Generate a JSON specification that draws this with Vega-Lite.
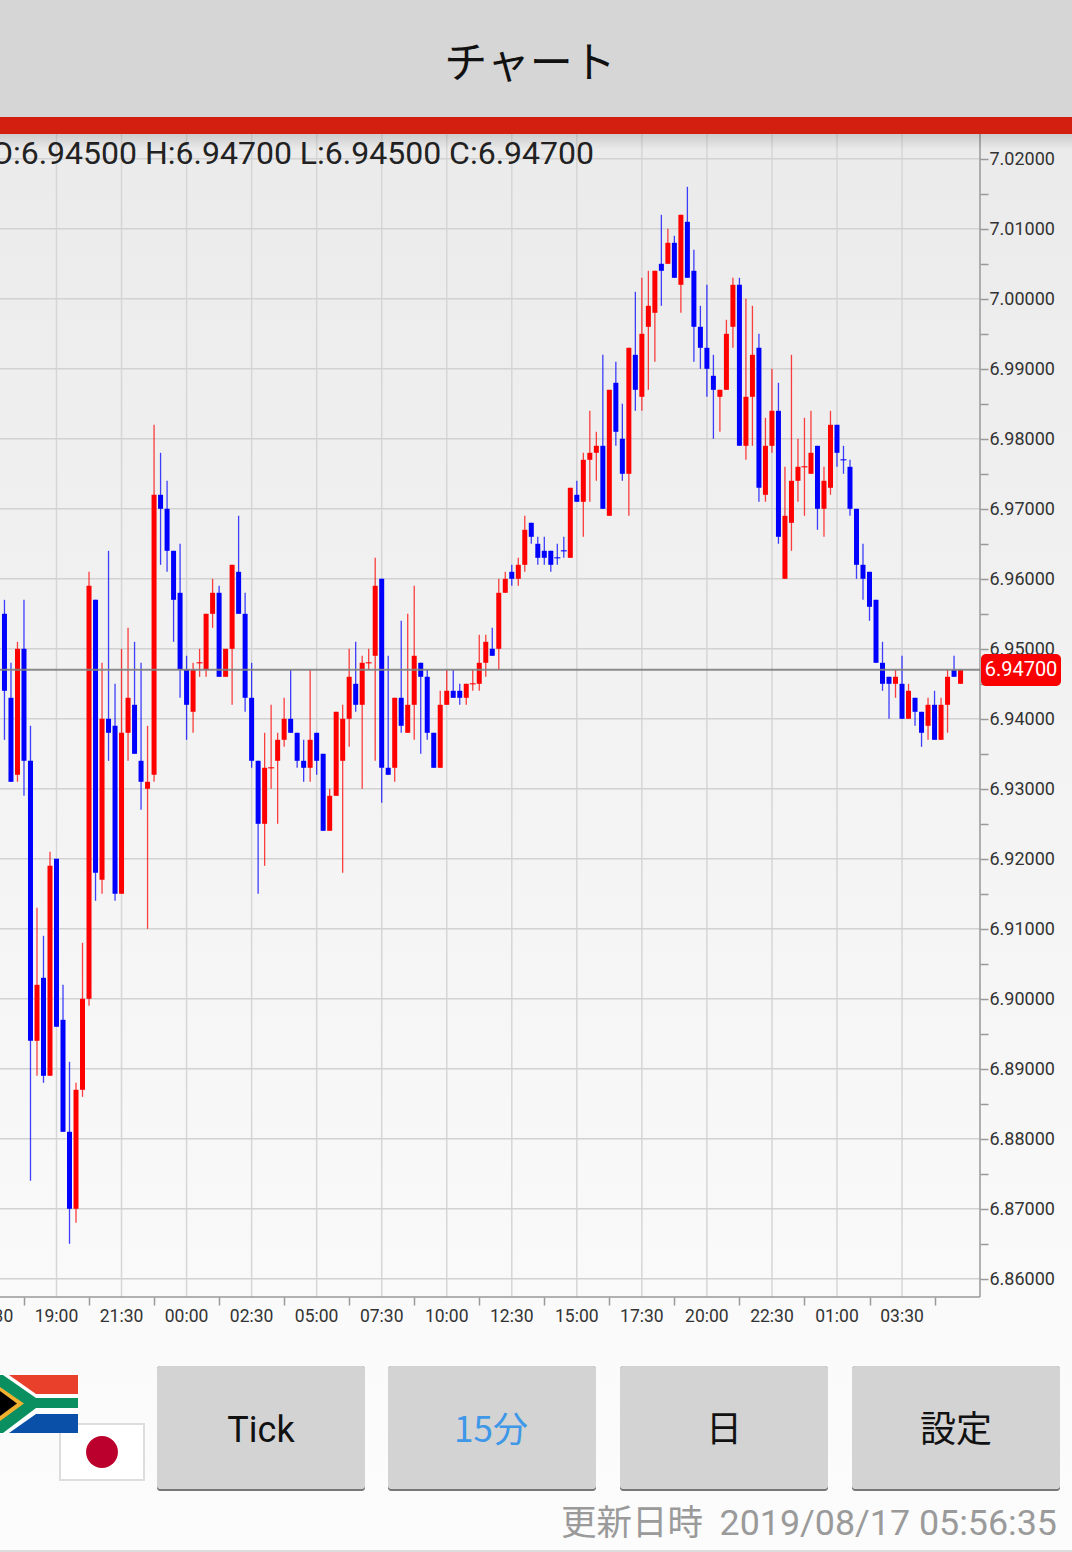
{"$schema":"https://vega.github.io/schema/vega-lite/v6.json","width":1072,"height":1552,"autosize":"none","padding":0,"background":"#fafafa","view":{"stroke":null,"fill":{"gradient":"linear","x1":0,"y1":0,"x2":0,"y2":1,"stops":[{"offset":0,"color":"#e9e9e9"},{"offset":0.1,"color":"#ebebeb"},{"offset":0.85,"color":"#fafafa"},{"offset":1,"color":"#fcfcfc"}]}},"config":{"axis":{"title":null,"grid":false,"domain":false}},"datasets":{"candles":[
{"t":"2019-08-15T17:00Z","o":6.955,"h":6.957,"l":6.937,"c":6.944,"d":"d"},
{"t":"2019-08-15T17:15Z","o":6.943,"h":6.948,"l":6.931,"c":6.931,"d":"d"},
{"t":"2019-08-15T17:30Z","o":6.932,"h":6.951,"l":6.931,"c":6.950,"d":"u"},
{"t":"2019-08-15T17:45Z","o":6.950,"h":6.957,"l":6.929,"c":6.934,"d":"d"},
{"t":"2019-08-15T18:00Z","o":6.934,"h":6.939,"l":6.874,"c":6.894,"d":"d"},
{"t":"2019-08-15T18:15Z","o":6.894,"h":6.913,"l":6.889,"c":6.902,"d":"u"},
{"t":"2019-08-15T18:30Z","o":6.903,"h":6.909,"l":6.888,"c":6.889,"d":"d"},
{"t":"2019-08-15T18:45Z","o":6.889,"h":6.921,"l":6.889,"c":6.919,"d":"u"},
{"t":"2019-08-15T19:00Z","o":6.920,"h":6.920,"l":6.896,"c":6.896,"d":"d"},
{"t":"2019-08-15T19:15Z","o":6.897,"h":6.902,"l":6.881,"c":6.881,"d":"d"},
{"t":"2019-08-15T19:30Z","o":6.881,"h":6.891,"l":6.865,"c":6.870,"d":"d"},
{"t":"2019-08-15T19:45Z","o":6.870,"h":6.888,"l":6.868,"c":6.887,"d":"u"},
{"t":"2019-08-15T20:00Z","o":6.887,"h":6.908,"l":6.886,"c":6.900,"d":"u"},
{"t":"2019-08-15T20:15Z","o":6.900,"h":6.961,"l":6.899,"c":6.959,"d":"u"},
{"t":"2019-08-15T20:30Z","o":6.957,"h":6.957,"l":6.914,"c":6.918,"d":"d"},
{"t":"2019-08-15T20:45Z","o":6.917,"h":6.948,"l":6.915,"c":6.940,"d":"u"},
{"t":"2019-08-15T21:00Z","o":6.940,"h":6.964,"l":6.934,"c":6.938,"d":"d"},
{"t":"2019-08-15T21:15Z","o":6.939,"h":6.945,"l":6.914,"c":6.915,"d":"d"},
{"t":"2019-08-15T21:30Z","o":6.915,"h":6.950,"l":6.915,"c":6.938,"d":"u"},
{"t":"2019-08-15T21:45Z","o":6.938,"h":6.953,"l":6.934,"c":6.943,"d":"u"},
{"t":"2019-08-15T22:00Z","o":6.942,"h":6.951,"l":6.935,"c":6.935,"d":"d"},
{"t":"2019-08-15T22:15Z","o":6.934,"h":6.948,"l":6.927,"c":6.931,"d":"d"},
{"t":"2019-08-15T22:30Z","o":6.930,"h":6.939,"l":6.910,"c":6.931,"d":"u"},
{"t":"2019-08-15T22:45Z","o":6.932,"h":6.982,"l":6.931,"c":6.972,"d":"u"},
{"t":"2019-08-15T23:00Z","o":6.972,"h":6.978,"l":6.962,"c":6.970,"d":"d"},
{"t":"2019-08-15T23:15Z","o":6.970,"h":6.974,"l":6.961,"c":6.964,"d":"d"},
{"t":"2019-08-15T23:30Z","o":6.964,"h":6.964,"l":6.951,"c":6.957,"d":"d"},
{"t":"2019-08-15T23:45Z","o":6.958,"h":6.965,"l":6.943,"c":6.947,"d":"d"},
{"t":"2019-08-16T00:00Z","o":6.947,"h":6.949,"l":6.937,"c":6.942,"d":"d"},
{"t":"2019-08-16T00:15Z","o":6.941,"h":6.948,"l":6.938,"c":6.947,"d":"u"},
{"t":"2019-08-16T00:30Z","o":6.948,"h":6.950,"l":6.946,"c":6.948,"d":"u"},
{"t":"2019-08-16T00:45Z","o":6.947,"h":6.955,"l":6.946,"c":6.955,"d":"u"},
{"t":"2019-08-16T01:00Z","o":6.955,"h":6.960,"l":6.953,"c":6.958,"d":"u"},
{"t":"2019-08-16T01:15Z","o":6.958,"h":6.959,"l":6.946,"c":6.946,"d":"d"},
{"t":"2019-08-16T01:30Z","o":6.946,"h":6.950,"l":6.946,"c":6.950,"d":"u"},
{"t":"2019-08-16T01:45Z","o":6.950,"h":6.962,"l":6.942,"c":6.962,"d":"u"},
{"t":"2019-08-16T02:00Z","o":6.961,"h":6.969,"l":6.955,"c":6.955,"d":"d"},
{"t":"2019-08-16T02:15Z","o":6.955,"h":6.958,"l":6.941,"c":6.943,"d":"d"},
{"t":"2019-08-16T02:30Z","o":6.943,"h":6.948,"l":6.933,"c":6.934,"d":"d"},
{"t":"2019-08-16T02:45Z","o":6.934,"h":6.934,"l":6.915,"c":6.925,"d":"d"},
{"t":"2019-08-16T03:00Z","o":6.925,"h":6.938,"l":6.919,"c":6.933,"d":"u"},
{"t":"2019-08-16T03:15Z","o":6.933,"h":6.942,"l":6.930,"c":6.933,"d":"u"},
{"t":"2019-08-16T03:30Z","o":6.934,"h":6.938,"l":6.925,"c":6.937,"d":"u"},
{"t":"2019-08-16T03:45Z","o":6.937,"h":6.943,"l":6.936,"c":6.940,"d":"u"},
{"t":"2019-08-16T04:00Z","o":6.940,"h":6.947,"l":6.938,"c":6.938,"d":"d"},
{"t":"2019-08-16T04:15Z","o":6.938,"h":6.938,"l":6.933,"c":6.934,"d":"d"},
{"t":"2019-08-16T04:30Z","o":6.934,"h":6.937,"l":6.931,"c":6.933,"d":"d"},
{"t":"2019-08-16T04:45Z","o":6.933,"h":6.947,"l":6.931,"c":6.937,"d":"u"},
{"t":"2019-08-16T05:00Z","o":6.938,"h":6.938,"l":6.932,"c":6.934,"d":"d"},
{"t":"2019-08-16T05:15Z","o":6.935,"h":6.935,"l":6.924,"c":6.924,"d":"d"},
{"t":"2019-08-16T05:30Z","o":6.924,"h":6.930,"l":6.924,"c":6.929,"d":"u"},
{"t":"2019-08-16T05:45Z","o":6.929,"h":6.941,"l":6.929,"c":6.941,"d":"u"},
{"t":"2019-08-16T06:00Z","o":6.934,"h":6.942,"l":6.918,"c":6.940,"d":"u"},
{"t":"2019-08-16T06:15Z","o":6.940,"h":6.950,"l":6.936,"c":6.946,"d":"u"},
{"t":"2019-08-16T06:30Z","o":6.945,"h":6.951,"l":6.941,"c":6.942,"d":"d"},
{"t":"2019-08-16T06:45Z","o":6.942,"h":6.949,"l":6.930,"c":6.948,"d":"u"},
{"t":"2019-08-16T07:00Z","o":6.948,"h":6.950,"l":6.947,"c":6.948,"d":"u"},
{"t":"2019-08-16T07:15Z","o":6.949,"h":6.963,"l":6.934,"c":6.959,"d":"u"},
{"t":"2019-08-16T07:30Z","o":6.960,"h":6.960,"l":6.928,"c":6.933,"d":"d"},
{"t":"2019-08-16T07:45Z","o":6.933,"h":6.949,"l":6.932,"c":6.932,"d":"d"},
{"t":"2019-08-16T08:00Z","o":6.933,"h":6.943,"l":6.931,"c":6.943,"d":"u"},
{"t":"2019-08-16T08:15Z","o":6.943,"h":6.954,"l":6.938,"c":6.939,"d":"d"},
{"t":"2019-08-16T08:30Z","o":6.938,"h":6.955,"l":6.938,"c":6.942,"d":"u"},
{"t":"2019-08-16T08:45Z","o":6.942,"h":6.959,"l":6.937,"c":6.949,"d":"u"},
{"t":"2019-08-16T09:00Z","o":6.948,"h":6.948,"l":6.935,"c":6.946,"d":"d"},
{"t":"2019-08-16T09:15Z","o":6.946,"h":6.947,"l":6.937,"c":6.938,"d":"d"},
{"t":"2019-08-16T09:30Z","o":6.938,"h":6.938,"l":6.933,"c":6.933,"d":"d"},
{"t":"2019-08-16T09:45Z","o":6.933,"h":6.944,"l":6.933,"c":6.942,"d":"u"},
{"t":"2019-08-16T10:00Z","o":6.942,"h":6.947,"l":6.942,"c":6.944,"d":"u"},
{"t":"2019-08-16T10:15Z","o":6.944,"h":6.947,"l":6.943,"c":6.943,"d":"d"},
{"t":"2019-08-16T10:30Z","o":6.944,"h":6.945,"l":6.942,"c":6.943,"d":"d"},
{"t":"2019-08-16T10:45Z","o":6.943,"h":6.945,"l":6.942,"c":6.945,"d":"u"},
{"t":"2019-08-16T11:00Z","o":6.945,"h":6.947,"l":6.944,"c":6.945,"d":"u"},
{"t":"2019-08-16T11:15Z","o":6.945,"h":6.952,"l":6.944,"c":6.948,"d":"u"},
{"t":"2019-08-16T11:30Z","o":6.948,"h":6.952,"l":6.946,"c":6.951,"d":"u"},
{"t":"2019-08-16T11:45Z","o":6.950,"h":6.953,"l":6.949,"c":6.949,"d":"d"},
{"t":"2019-08-16T12:00Z","o":6.950,"h":6.960,"l":6.947,"c":6.958,"d":"u"},
{"t":"2019-08-16T12:15Z","o":6.958,"h":6.961,"l":6.958,"c":6.960,"d":"u"},
{"t":"2019-08-16T12:30Z","o":6.961,"h":6.962,"l":6.959,"c":6.960,"d":"d"},
{"t":"2019-08-16T12:45Z","o":6.960,"h":6.963,"l":6.959,"c":6.962,"d":"u"},
{"t":"2019-08-16T13:00Z","o":6.962,"h":6.969,"l":6.961,"c":6.967,"d":"u"},
{"t":"2019-08-16T13:15Z","o":6.968,"h":6.968,"l":6.965,"c":6.966,"d":"d"},
{"t":"2019-08-16T13:30Z","o":6.965,"h":6.966,"l":6.962,"c":6.963,"d":"d"},
{"t":"2019-08-16T13:45Z","o":6.964,"h":6.966,"l":6.962,"c":6.963,"d":"d"},
{"t":"2019-08-16T14:00Z","o":6.964,"h":6.964,"l":6.961,"c":6.962,"d":"d"},
{"t":"2019-08-16T14:15Z","o":6.963,"h":6.965,"l":6.962,"c":6.963,"d":"d"},
{"t":"2019-08-16T14:30Z","o":6.964,"h":6.966,"l":6.963,"c":6.964,"d":"d"},
{"t":"2019-08-16T14:45Z","o":6.963,"h":6.973,"l":6.963,"c":6.973,"d":"u"},
{"t":"2019-08-16T15:00Z","o":6.972,"h":6.974,"l":6.971,"c":6.971,"d":"d"},
{"t":"2019-08-16T15:15Z","o":6.971,"h":6.978,"l":6.966,"c":6.977,"d":"u"},
{"t":"2019-08-16T15:30Z","o":6.977,"h":6.984,"l":6.971,"c":6.978,"d":"u"},
{"t":"2019-08-16T15:45Z","o":6.978,"h":6.981,"l":6.974,"c":6.979,"d":"u"},
{"t":"2019-08-16T16:00Z","o":6.979,"h":6.992,"l":6.970,"c":6.970,"d":"d"},
{"t":"2019-08-16T16:15Z","o":6.969,"h":6.987,"l":6.969,"c":6.987,"d":"u"},
{"t":"2019-08-16T16:30Z","o":6.988,"h":6.991,"l":6.979,"c":6.981,"d":"d"},
{"t":"2019-08-16T16:45Z","o":6.980,"h":6.985,"l":6.974,"c":6.975,"d":"d"},
{"t":"2019-08-16T17:00Z","o":6.975,"h":6.993,"l":6.969,"c":6.993,"d":"u"},
{"t":"2019-08-16T17:15Z","o":6.992,"h":7.001,"l":6.984,"c":6.987,"d":"d"},
{"t":"2019-08-16T17:30Z","o":6.986,"h":7.003,"l":6.984,"c":6.995,"d":"u"},
{"t":"2019-08-16T17:45Z","o":6.996,"h":7.004,"l":6.987,"c":6.999,"d":"u"},
{"t":"2019-08-16T18:00Z","o":6.998,"h":7.004,"l":6.991,"c":7.004,"d":"u"},
{"t":"2019-08-16T18:15Z","o":7.005,"h":7.012,"l":6.999,"c":7.004,"d":"d"},
{"t":"2019-08-16T18:30Z","o":7.005,"h":7.010,"l":7.005,"c":7.008,"d":"u"},
{"t":"2019-08-16T18:45Z","o":7.008,"h":7.009,"l":7.003,"c":7.003,"d":"d"},
{"t":"2019-08-16T19:00Z","o":7.002,"h":7.012,"l":6.998,"c":7.012,"d":"u"},
{"t":"2019-08-16T19:15Z","o":7.011,"h":7.016,"l":7.003,"c":7.003,"d":"d"},
{"t":"2019-08-16T19:30Z","o":7.004,"h":7.007,"l":6.991,"c":6.996,"d":"d"},
{"t":"2019-08-16T19:45Z","o":6.996,"h":6.999,"l":6.990,"c":6.993,"d":"d"},
{"t":"2019-08-16T20:00Z","o":6.993,"h":7.002,"l":6.986,"c":6.990,"d":"d"},
{"t":"2019-08-16T20:15Z","o":6.989,"h":6.992,"l":6.980,"c":6.987,"d":"d"},
{"t":"2019-08-16T20:30Z","o":6.986,"h":6.987,"l":6.981,"c":6.987,"d":"u"},
{"t":"2019-08-16T20:45Z","o":6.987,"h":6.997,"l":6.987,"c":6.995,"d":"u"},
{"t":"2019-08-16T21:00Z","o":6.996,"h":7.003,"l":6.993,"c":7.002,"d":"u"},
{"t":"2019-08-16T21:15Z","o":7.002,"h":7.003,"l":6.979,"c":6.979,"d":"d"},
{"t":"2019-08-16T21:30Z","o":6.979,"h":7.000,"l":6.977,"c":6.986,"d":"u"},
{"t":"2019-08-16T21:45Z","o":6.986,"h":6.999,"l":6.979,"c":6.992,"d":"u"},
{"t":"2019-08-16T22:00Z","o":6.993,"h":6.995,"l":6.971,"c":6.973,"d":"d"},
{"t":"2019-08-16T22:15Z","o":6.972,"h":6.983,"l":6.971,"c":6.979,"d":"u"},
{"t":"2019-08-16T22:30Z","o":6.979,"h":6.990,"l":6.978,"c":6.984,"d":"u"},
{"t":"2019-08-16T22:45Z","o":6.984,"h":6.988,"l":6.965,"c":6.966,"d":"d"},
{"t":"2019-08-16T23:00Z","o":6.960,"h":6.976,"l":6.960,"c":6.969,"d":"u"},
{"t":"2019-08-16T23:15Z","o":6.968,"h":6.992,"l":6.964,"c":6.974,"d":"u"},
{"t":"2019-08-16T23:30Z","o":6.974,"h":6.980,"l":6.971,"c":6.976,"d":"u"},
{"t":"2019-08-16T23:45Z","o":6.976,"h":6.983,"l":6.969,"c":6.976,"d":"u"},
{"t":"2019-08-17T00:00Z","o":6.975,"h":6.984,"l":6.975,"c":6.978,"d":"u"},
{"t":"2019-08-17T00:15Z","o":6.979,"h":6.979,"l":6.967,"c":6.970,"d":"d"},
{"t":"2019-08-17T00:30Z","o":6.970,"h":6.976,"l":6.966,"c":6.974,"d":"u"},
{"t":"2019-08-17T00:45Z","o":6.973,"h":6.984,"l":6.972,"c":6.982,"d":"u"},
{"t":"2019-08-17T01:00Z","o":6.982,"h":6.982,"l":6.976,"c":6.978,"d":"d"},
{"t":"2019-08-17T01:15Z","o":6.977,"h":6.979,"l":6.975,"c":6.977,"d":"d"},
{"t":"2019-08-17T01:30Z","o":6.976,"h":6.977,"l":6.969,"c":6.970,"d":"d"},
{"t":"2019-08-17T01:45Z","o":6.970,"h":6.970,"l":6.960,"c":6.962,"d":"d"},
{"t":"2019-08-17T02:00Z","o":6.962,"h":6.965,"l":6.957,"c":6.960,"d":"d"},
{"t":"2019-08-17T02:15Z","o":6.961,"h":6.961,"l":6.954,"c":6.956,"d":"d"},
{"t":"2019-08-17T02:30Z","o":6.957,"h":6.957,"l":6.948,"c":6.948,"d":"d"},
{"t":"2019-08-17T02:45Z","o":6.948,"h":6.951,"l":6.944,"c":6.945,"d":"d"},
{"t":"2019-08-17T03:00Z","o":6.946,"h":6.946,"l":6.940,"c":6.945,"d":"d"},
{"t":"2019-08-17T03:15Z","o":6.945,"h":6.947,"l":6.943,"c":6.946,"d":"u"},
{"t":"2019-08-17T03:30Z","o":6.945,"h":6.949,"l":6.940,"c":6.940,"d":"d"},
{"t":"2019-08-17T03:45Z","o":6.940,"h":6.945,"l":6.940,"c":6.944,"d":"u"},
{"t":"2019-08-17T04:00Z","o":6.943,"h":6.943,"l":6.939,"c":6.941,"d":"d"},
{"t":"2019-08-17T04:15Z","o":6.941,"h":6.941,"l":6.936,"c":6.938,"d":"d"},
{"t":"2019-08-17T04:30Z","o":6.939,"h":6.943,"l":6.937,"c":6.942,"d":"u"},
{"t":"2019-08-17T04:45Z","o":6.942,"h":6.944,"l":6.937,"c":6.937,"d":"d"},
{"t":"2019-08-17T05:00Z","o":6.937,"h":6.943,"l":6.937,"c":6.942,"d":"u"},
{"t":"2019-08-17T05:15Z","o":6.942,"h":6.947,"l":6.938,"c":6.946,"d":"u"},
{"t":"2019-08-17T05:30Z","o":6.947,"h":6.949,"l":6.946,"c":6.946,"d":"d"},
{"t":"2019-08-17T05:45Z","o":6.945,"h":6.947,"l":6.945,"c":6.947,"d":"u"}
],
"vgrid":[{"v":1565895600000},{"v":1565904600000},{"v":1565913600000},{"v":1565922600000},{"v":1565931600000},{"v":1565940600000},{"v":1565949600000},{"v":1565958600000},{"v":1565967600000},{"v":1565976600000},{"v":1565985600000},{"v":1565994600000},{"v":1566003600000},{"v":1566012600000}],
"xlabels":[{"v":1565886600000,"lab":"16:30"},{"v":1565895600000,"lab":"19:00"},{"v":1565904600000,"lab":"21:30"},{"v":1565913600000,"lab":"00:00"},{"v":1565922600000,"lab":"02:30"},{"v":1565931600000,"lab":"05:00"},{"v":1565940600000,"lab":"07:30"},{"v":1565949600000,"lab":"10:00"},{"v":1565958600000,"lab":"12:30"},{"v":1565967600000,"lab":"15:00"},{"v":1565976600000,"lab":"17:30"},{"v":1565985600000,"lab":"20:00"},{"v":1565994600000,"lab":"22:30"},{"v":1566003600000,"lab":"01:00"},{"v":1566012600000,"lab":"03:30"}],
"hgrid":[{"p":6.86},{"p":6.87},{"p":6.88},{"p":6.89},{"p":6.90},{"p":6.91},{"p":6.92},{"p":6.93},{"p":6.94},{"p":6.95},{"p":6.96},{"p":6.97},{"p":6.98},{"p":6.99},{"p":7.00},{"p":7.01},{"p":7.02}],
"one":[{"a":1}]},
"layer":[
{"data":{"name":"candles"},"mark":{"type":"point","opacity":0},"encoding":{
"x":{"field":"t","type":"temporal","scale":{"type":"utc","domain":[1565887781756,1566036120828],"nice":false},"axis":{"title":null,"grid":false,"domain":false,"orient":"bottom","offset":-255,"labels":false,"values":[1565886600000,1565891100000,1565895600000,1565900100000,1565904600000,1565909100000,1565913600000,1565918100000,1565922600000,1565927100000,1565931600000,1565936100000,1565940600000,1565945100000,1565949600000,1565954100000,1565958600000,1565963100000,1565967600000,1565972100000,1565976600000,1565981100000,1565985600000,1565990100000,1565994600000,1565999100000,1566003600000,1566008100000,1566012600000,1566017100000],"tickColor":"#999999","tickSize":8,"tickWidth":1.5}},
"y":{"field":"l","type":"quantitative","scale":{"domain":[6.820971,7.042686],"nice":false,"zero":false},"axis":{"title":null,"grid":false,"domain":false,"orient":"right","offset":-92,"values":[6.86,6.865,6.87,6.875,6.88,6.885,6.89,6.895,6.9,6.905,6.91,6.915,6.92,6.925,6.93,6.935,6.94,6.945,6.95,6.955,6.96,6.965,6.97,6.975,6.98,6.985,6.99,6.995,7.0,7.005,7.01,7.015,7.02],"labelExpr":"round(datum.value*1000)%10==0?format(datum.value,'.5f'):''","labelOverlap":false,"labelFont":"Roboto","labelFontSize":18,"labelColor":"#333333","tickColor":"#999999","tickSize":8,"tickWidth":1.5,"labelPadding":1,"labelOffset":1}}}},
{"data":{"name":"xlabels"},"mark":{"type":"text","color":"#333333","font":"Roboto","fontSize":17.5,"align":"center","baseline":"middle"},"encoding":{"x":{"field":"v","type":"temporal"},"y":{"datum":6.854543,"type":"quantitative"},"text":{"field":"lab","type":"nominal"}}},
{"data":{"name":"vgrid"},"mark":{"type":"rule","color":"#d6d6d6","strokeWidth":1.5},"encoding":{"x":{"field":"v","type":"temporal"},"y":{"datum":7.02364,"type":"quantitative"},"y2":{"datum":6.8574}}},
{"data":{"name":"hgrid"},"mark":{"type":"rule","color":"#d2d2d2","strokeWidth":1.5},"encoding":{"y":{"field":"p","type":"quantitative"},"x":{"datum":1565887781756,"type":"temporal"},"x2":{"datum":1566023390236}}},
{"data":{"name":"one"},"mark":{"type":"rule","color":"#999999","strokeWidth":1.5},"encoding":{"y":{"datum":6.8574,"type":"quantitative"},"x":{"datum":1565887781756,"type":"temporal"},"x2":{"datum":1566023390236}}},
{"data":{"name":"one"},"mark":{"type":"rule","color":"#999999","strokeWidth":1.5},"encoding":{"x":{"datum":1566023390236,"type":"temporal"},"y":{"datum":7.02364,"type":"quantitative"},"y2":{"datum":6.8574}}},
{"data":{"name":"candles"},"mark":{"type":"rule","strokeWidth":1.3,"opacity":0.75},"encoding":{"x":{"field":"t","type":"temporal"},"y":{"field":"l","type":"quantitative"},"y2":{"field":"h"},"color":{"field":"d","type":"nominal","scale":{"domain":["u","d"],"range":["#ff0000","#0000ff"]},"legend":null}}},
{"data":{"name":"candles"},"mark":{"type":"rule","strokeWidth":5},"encoding":{"x":{"field":"t","type":"temporal"},"y":{"field":"o","type":"quantitative"},"y2":{"field":"c"},"color":{"field":"d","type":"nominal","legend":null}}},
{"data":{"name":"candles"},"transform":[{"filter":"datum.o==datum.c"}],"mark":{"type":"tick","orient":"horizontal","size":6,"thickness":1.2,"opacity":0.9},"encoding":{"x":{"field":"t","type":"temporal"},"y":{"field":"c","type":"quantitative"},"color":{"field":"d","type":"nominal","legend":null}}},
{"data":{"name":"one"},"mark":{"type":"rule","color":"#808080","strokeWidth":2,"opacity":0.9},"encoding":{"y":{"datum":6.947,"type":"quantitative"},"x":{"datum":1565887781756,"type":"temporal"},"x2":{"datum":1566023390236}}},
{"data":{"name":"one"},"mark":{"type":"rect","color":"#fa0000","cornerRadius":5},"encoding":{"x":{"value":981},"x2":{"value":1061},"y":{"value":654},"y2":{"value":686}}},
{"data":{"name":"one"},"mark":{"type":"text","text":"6.94700","color":"#ffffff","font":"Roboto","fontSize":20,"align":"center","baseline":"middle"},"encoding":{"x":{"value":1021},"y":{"datum":6.947,"type":"quantitative"}}},
{"data":{"name":"one"},"mark":{"type":"text","text":"O:6.94500 H:6.94700 L:6.94500 C:6.94700","color":"#222222","font":"Roboto","fontSize":32,"align":"right","baseline":"middle"},"encoding":{"x":{"value":594},"y":{"value":154}}},
{"data":{"name":"one"},"mark":{"type":"rect","color":{"gradient":"linear","x1":0,"y1":0,"x2":0,"y2":1,"stops":[{"offset":0,"color":"rgba(0,0,0,0.13)"},{"offset":1,"color":"rgba(0,0,0,0)"}]}},"encoding":{"x":{"value":0},"x2":{"value":1072},"y":{"value":134},"y2":{"value":150}}},
{"data":{"name":"one"},"mark":{"type":"rect","color":"#d6d6d6"},"encoding":{"x":{"value":0},"x2":{"value":1072},"y":{"value":0},"y2":{"value":117}}},
{"data":{"name":"one"},"mark":{"type":"rect","color":"#d21f10"},"encoding":{"x":{"value":0},"x2":{"value":1072},"y":{"value":117},"y2":{"value":134}}},
{"data":{"name":"one"},"mark":{"type":"text","text":"チャート","color":"#111111","font":"Noto Sans CJK JP","fontSize":43,"align":"center","baseline":"middle"},"encoding":{"x":{"value":530},"y":{"value":65}}},
{"data":{"name":"one"},"mark":{"type":"rect","color":"#ffffff","stroke":"#dddddd","strokeWidth":2},"encoding":{"x":{"value":60},"x2":{"value":144},"y":{"value":1424},"y2":{"value":1480}}},
{"data":{"name":"one"},"mark":{"type":"circle","color":"#bc002d","opacity":1,"size":1018},"encoding":{"x":{"value":102},"y":{"value":1452}}},
{"data":{"name":"one"},"mark":{"type":"rect","color":"#ffffff"},"encoding":{"x":{"value":0},"x2":{"value":78},"y":{"value":1375},"y2":{"value":1433}}},
{"data":{"name":"one"},"mark":{"type":"point","shape":"M9 1375L78 1375L78 1394L36 1394Z","size":4,"filled":true,"opacity":1,"strokeWidth":0,"color":"#e8402a"},"encoding":{"x":{"value":0},"y":{"value":0}}},
{"data":{"name":"one"},"mark":{"type":"point","shape":"M9 1433L78 1433L78 1414L36 1414Z","size":4,"filled":true,"opacity":1,"strokeWidth":0,"color":"#0a4fa8"},"encoding":{"x":{"value":0},"y":{"value":0}}},
{"data":{"name":"one"},"mark":{"type":"point","shape":"M0 1375L3 1375L36 1398L78 1398L78 1408L36 1408L3 1433L0 1433Z","size":4,"filled":true,"opacity":1,"strokeWidth":0,"color":"#0a9060"},"encoding":{"x":{"value":0},"y":{"value":0}}},
{"data":{"name":"one"},"mark":{"type":"point","shape":"M0 1387L24 1403.5L0 1421Z","size":4,"filled":true,"opacity":1,"strokeWidth":0,"color":"#f0b030"},"encoding":{"x":{"value":0},"y":{"value":0}}},
{"data":{"name":"one"},"mark":{"type":"point","shape":"M0 1391L17 1403.5L0 1416Z","size":4,"filled":true,"opacity":1,"strokeWidth":0,"color":"#000000"},"encoding":{"x":{"value":0},"y":{"value":0}}},
{"data":{"name":"one"},"mark":{"type":"rect","color":"#777777","cornerRadius":3},"encoding":{"x":{"value":157},"x2":{"value":365},"y":{"value":1366},"y2":{"value":1491}}},
{"data":{"name":"one"},"mark":{"type":"rect","color":"#777777","cornerRadius":3},"encoding":{"x":{"value":388},"x2":{"value":596},"y":{"value":1366},"y2":{"value":1491}}},
{"data":{"name":"one"},"mark":{"type":"rect","color":"#777777","cornerRadius":3},"encoding":{"x":{"value":620},"x2":{"value":828},"y":{"value":1366},"y2":{"value":1491}}},
{"data":{"name":"one"},"mark":{"type":"rect","color":"#777777","cornerRadius":3},"encoding":{"x":{"value":852},"x2":{"value":1060},"y":{"value":1366},"y2":{"value":1491}}},
{"data":{"name":"one"},"mark":{"type":"rect","color":"#d3d3d3","cornerRadius":3},"encoding":{"x":{"value":157},"x2":{"value":365},"y":{"value":1366},"y2":{"value":1489}}},
{"data":{"name":"one"},"mark":{"type":"rect","color":"#d3d3d3","cornerRadius":3},"encoding":{"x":{"value":388},"x2":{"value":596},"y":{"value":1366},"y2":{"value":1489}}},
{"data":{"name":"one"},"mark":{"type":"rect","color":"#d3d3d3","cornerRadius":3},"encoding":{"x":{"value":620},"x2":{"value":828},"y":{"value":1366},"y2":{"value":1489}}},
{"data":{"name":"one"},"mark":{"type":"rect","color":"#d3d3d3","cornerRadius":3},"encoding":{"x":{"value":852},"x2":{"value":1060},"y":{"value":1366},"y2":{"value":1489}}},
{"data":{"name":"one"},"mark":{"type":"text","text":"Tick","color":"#111111","font":"Roboto","fontSize":36,"align":"center","baseline":"middle"},"encoding":{"x":{"value":261},"y":{"value":1431}}},
{"data":{"name":"one"},"mark":{"type":"text","text":"15分","color":"#3f97e8","font":"Noto Sans CJK JP","fontSize":35,"align":"center","baseline":"middle"},"encoding":{"x":{"value":491},"y":{"value":1431}}},
{"data":{"name":"one"},"mark":{"type":"text","text":"日","color":"#111111","font":"Noto Sans CJK JP","fontSize":36,"align":"center","baseline":"middle"},"encoding":{"x":{"value":724},"y":{"value":1431}}},
{"data":{"name":"one"},"mark":{"type":"text","text":"設定","color":"#111111","font":"Noto Sans CJK JP","fontSize":36,"align":"center","baseline":"middle"},"encoding":{"x":{"value":956},"y":{"value":1431}}},
{"data":{"name":"one"},"mark":{"type":"text","text":"更新日時","color":"#9a9a9a","font":"Noto Sans CJK JP","fontSize":35.5,"align":"left","baseline":"middle"},"encoding":{"x":{"value":561},"y":{"value":1524}}},
{"data":{"name":"one"},"mark":{"type":"text","text":"2019/08/17 05:56:35","color":"#9a9a9a","font":"Roboto","fontSize":35.8,"align":"right","baseline":"middle"},"encoding":{"x":{"value":1057},"y":{"value":1524}}},
{"data":{"name":"one"},"mark":{"type":"rect","color":"#dddddd"},"encoding":{"x":{"value":0},"x2":{"value":1072},"y":{"value":1550},"y2":{"value":1552}}}
]}
